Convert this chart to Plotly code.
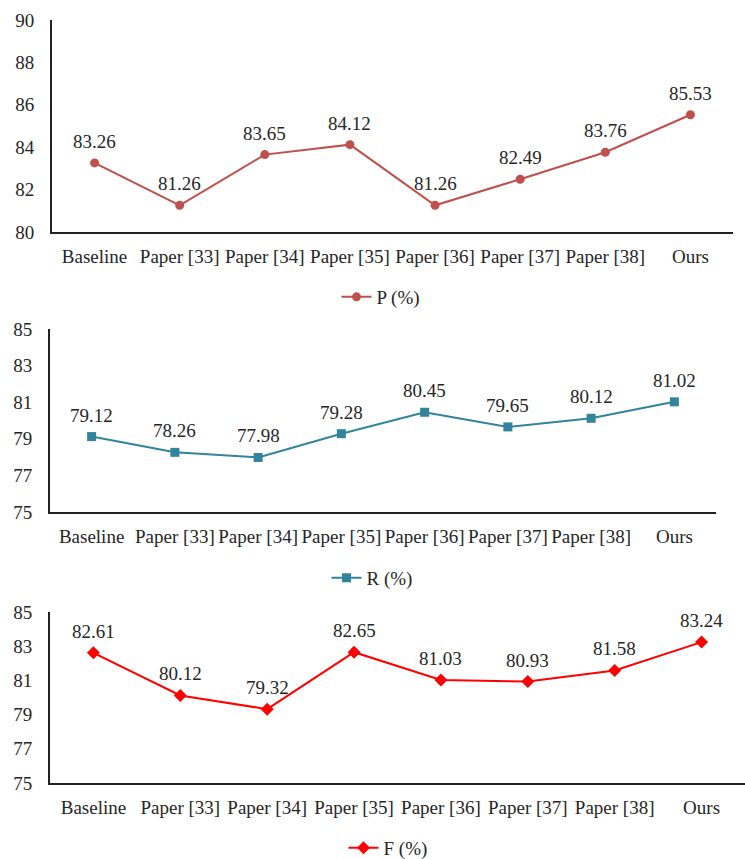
import plotly.graph_objects as go

# Methods compared on the x axis
methods = ["Baseline", "Paper [33]", "Paper [34]", "Paper [35]",
           "Paper [36]", "Paper [37]", "Paper [38]", "Ours"]

# Precision, recall and F-score (%) per method
precision = [83.26, 81.26, 83.65, 84.12, 81.26, 82.49, 83.76, 85.53]
recall = [79.12, 78.26, 77.98, 79.28, 80.45, 79.65, 80.12, 81.02]
f_score = [82.61, 80.12, 79.32, 82.65, 81.03, 80.93, 81.58, 83.24]

p_ticks = [80, 82, 84, 86, 88, 90]
rf_ticks = [75, 77, 79, 81, 83, 85]

FONT = "'Times New Roman', 'Liberation Serif', serif"
TXT = "#262626"
W, H = 745, 859

def px_x(a, b):
    return [a / W, b / W]

def px_y(top, bottom):
    return [1 - bottom / H, 1 - top / H]

panels = [
    dict(name="P (%)", values=precision, color="#C0504D", symbol="circle", size=9,
         ticks=p_ticks, xdom=px_x(52, 733), ydom=px_y(20, 232),
         legend_pos=(381, 297)),
    dict(name="R (%)", values=recall, color="#31849B", symbol="square", size=9,
         ticks=rf_ticks, xdom=px_x(50, 716), ydom=px_y(329, 512),
         legend_pos=(372, 578)),
    dict(name="F (%)", values=f_score, color="#FF0000", symbol="diamond", size=10,
         ticks=rf_ticks, xdom=px_x(50, 745), ydom=px_y(612, 783),
         legend_pos=(388, 848)),
]

fig = go.Figure()
layout = dict(
    width=W, height=H, autosize=False,
    # fixed margins: legends must not push the plot areas around
    margin=dict(l=0, r=0, t=0, b=0, pad=0, autoexpand=False),
    paper_bgcolor="white", plot_bgcolor="white",
    font=dict(family=FONT, size=19, color=TXT),
)
annotations = []

for i, p in enumerate(panels, start=1):
    sfx = "" if i == 1 else str(i)
    lg = "legend" if i == 1 else f"legend{i}"
    fig.add_trace(go.Scatter(
        x=methods, y=p["values"], name=p["name"],
        mode="lines+markers",
        line=dict(color=p["color"], width=2),
        marker=dict(symbol=p["symbol"], size=p["size"], color=p["color"]),
        xaxis=f"x{sfx}", yaxis=f"y{sfx}",
        legend=lg, showlegend=True,
        cliponaxis=False,
    ))
    # value labels above each point
    for m, v in zip(methods, p["values"]):
        annotations.append(dict(
            x=m, y=v, xref=f"x{sfx}", yref=f"y{sfx}",
            text=f"{v:.2f}", showarrow=False,
            xanchor="center", yanchor="bottom", yshift=9,
            font=dict(family=FONT, size=19, color=TXT),
        ))
    layout[f"xaxis{sfx}"] = dict(
        domain=p["xdom"], anchor=f"y{sfx}",
        type="category", categoryorder="array", categoryarray=methods,
        range=[-0.5, len(methods) - 0.5],
        showline=True, linecolor="#222222", linewidth=2,
        showgrid=False, zeroline=False, ticks="",
        ticklabelstandoff=6,
        tickfont=dict(family=FONT, size=19, color=TXT),
    )
    layout[f"yaxis{sfx}"] = dict(
        domain=p["ydom"], anchor=f"x{sfx}",
        range=[p["ticks"][0], p["ticks"][-1]],
        tickvals=p["ticks"],
        showline=True, linecolor="#222222", linewidth=2,
        showgrid=False, zeroline=False, ticks="",
        ticklabelstandoff=12,
        tickfont=dict(family=FONT, size=19, color=TXT),
    )
    lx, ly = p["legend_pos"]
    layout[lg] = dict(
        x=lx / W, y=1 - ly / H, xanchor="center", yanchor="middle",
        orientation="h", bgcolor="rgba(0,0,0,0)",
        font=dict(family=FONT, size=19, color=TXT),
        itemclick=False,
    )

layout["annotations"] = annotations
fig.update_layout(**layout)
fig.write_html("out.html")
